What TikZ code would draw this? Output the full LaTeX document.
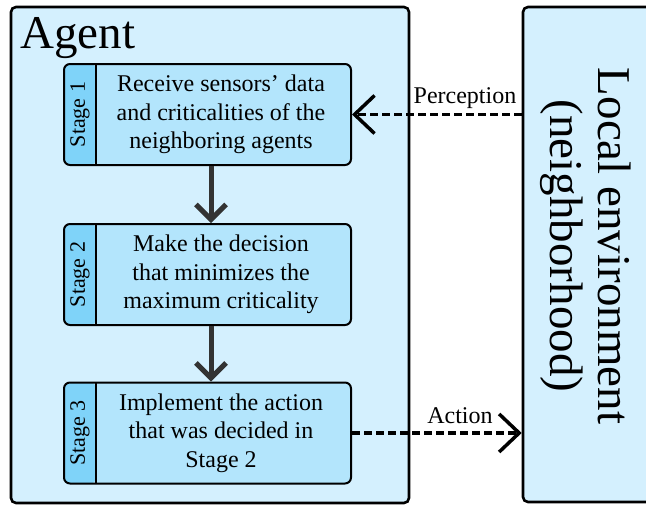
\documentclass[tikz,border=0pt]{standalone}
\usepackage{fontspec}
\setmainfont{Liberation Serif}
\usetikzlibrary{arrows.meta}
\definecolor{agentfill}{HTML}{D4F0FE}
\definecolor{stagefill}{HTML}{B3E5FC}
\definecolor{tabfill}{HTML}{7FD3F9}
\definecolor{flowc}{HTML}{333333}
\begin{document}
\begin{tikzpicture}[x=1pt,y=-1pt,
  bigbox/.style={draw, line width=2.6pt, fill=agentfill, rounded corners=5pt, inner sep=0pt},
  stagebox/.style={draw, line width=2pt, fill=stagefill, rounded corners=6pt,
    minimum width=287pt, minimum height=101pt, inner sep=0pt,
    path picture={
      \fill[tabfill] (path picture bounding box.north west) rectangle ([xshift=32pt]path picture bounding box.south west);
      \draw[line width=2pt] ([xshift=32pt]path picture bounding box.north west) -- ([xshift=32pt]path picture bounding box.south west);}},
  stagetext/.style={align=center, font=\fontsize{24}{28.5}\selectfont, inner sep=0pt},
  stagelbl/.style={rotate=90, font=\fontsize{22}{22}\selectfont, inner sep=0pt},
  lbl/.style={font=\fontsize{24}{24}\selectfont, inner sep=0pt},
  flow/.style={draw=flowc, line width=5pt, -{Straight Barb[length=15pt, width=30pt]}},
  dashflow/.style={draw=black, line width=3.5pt, dash pattern=on 8pt off 4pt, -{Straight Barb[length=20pt, width=38pt]}}
]
\useasboundingbox (0,0) rectangle (646,506);
\node[bigbox, minimum width=398pt, minimum height=496pt] (agent) at (210,255) {};
\node[bigbox, minimum width=157pt, minimum height=495pt] (env) at (601.5,254.5) {};
\node[anchor=base west, font=\fontsize{47}{47}\selectfont, inner sep=0pt] (agentlbl) at (20,48) {Agent};
\node[rotate=-90, align=center, font=\fontsize{47}{48}\selectfont, inner sep=0pt] (envlbl) at (586,246) {Local environment\\(neighborhood)};

\node[stagebox] (s1) at (207.5,114.5) {};
\node[stagebox] (s2) at (207.5,274.5) {};
\node[stagebox] (s3) at (207.5,433) {};

\node[stagelbl] (l1) at (80,114.5) {Stage 1};
\node[stagelbl] (l2) at (80,274.5) {Stage 2};
\node[stagelbl] (l3) at (80,433) {Stage 3};

\node[stagetext] (t1) at (221,114.5) {Receive sensors’ data\\and criticalities of the\\neighboring agents};
\node[stagetext] (t2) at (221,274.5) {Make the decision\\that minimizes the\\maximum criticality};
\node[stagetext] (t3) at (221,433) {Implement the action\\that was decided in\\Stage 2};

\draw[flow] ([xshift=3.5pt]s1.south) -- ([xshift=3.5pt]s2.north);
\draw[flow] ([xshift=3.5pt]s2.south) -- ([xshift=3.5pt]s3.north);

\draw[dashflow] (env.west |- s1.east) -- (s1.east);
\draw[dashflow] (s3.east) -- (s3.east -| env.west);

\node[lbl] (perc) at (465,98) {Perception};
\node[lbl] (act) at (460,416) {Action};
\end{tikzpicture}
\end{document}
